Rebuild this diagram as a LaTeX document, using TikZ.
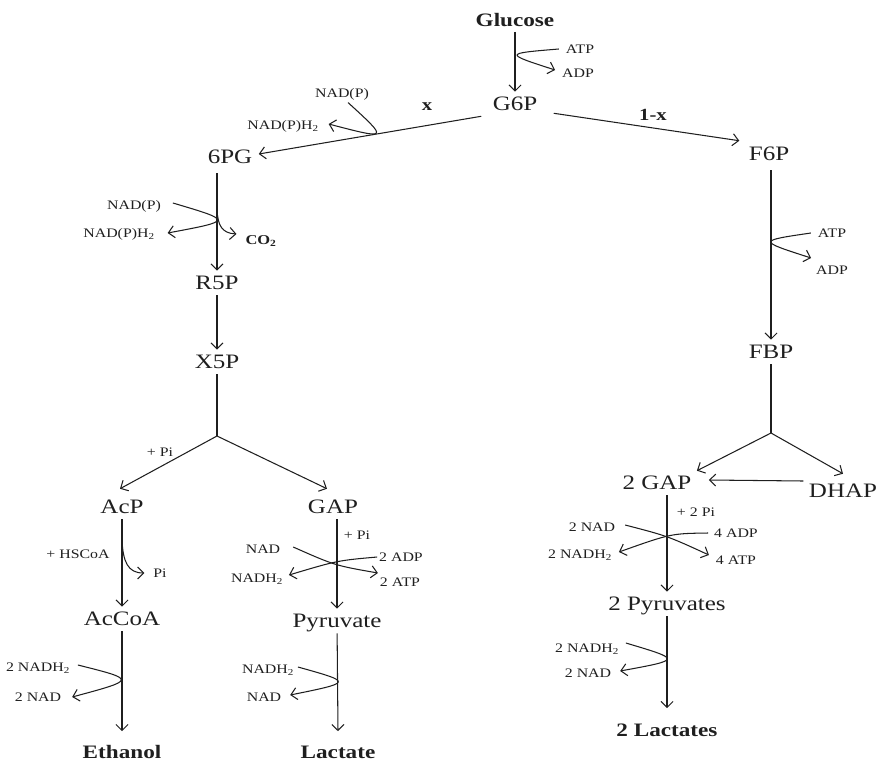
\documentclass[tikz,border=0pt]{standalone}
\usepackage{fontspec}
\setmainfont{Liberation Serif}[FakeStretch=1.22]
\usetikzlibrary{arrows.meta,calc}
\begin{document}
\begin{tikzpicture}[x=1pt,y=-1pt,
  color=black!88, line width=1.05pt,
  >={Straight Barb[length=6pt,width=12pt]},
  mnode/.style={font=\fontsize{20.5}{22}\selectfont, inner sep=5pt, text height=13.5pt, text depth=0pt},
  bnode/.style={font=\fontsize{19}{21}\selectfont\bfseries, inner sep=5pt, text height=12.5pt, text depth=0pt},
  xnode/.style={font=\fontsize{17}{19}\selectfont\bfseries, inner sep=1.5pt},
  lab/.style={font=\fontsize{13}{15}\selectfont, inner sep=1.5pt, text height=9pt, text depth=0pt},
  blab/.style={font=\fontsize{13.5}{15}\selectfont\bfseries, inner sep=1.5pt, text height=9pt, text depth=0pt},
  rx/.style={->}
]
\useasboundingbox (0,0) rectangle (876,764);

% main metabolites
\node[bnode] (glc) at (515,20) {Glucose};
\node[mnode] (g6p) at (515,104) {G6P};
\node[mnode] (pg6) at (230,157) {6PG};
\node[mnode] (f6p) at (769,154) {F6P};
\node[mnode] (r5p) at (217,283) {R5P};
\node[mnode] (x5p) at (217,362) {X5P};
\node[mnode] (acp) at (122,507) {AcP};
\node[mnode] (gap) at (333,507) {GAP};
\node[mnode] (accoa) at (122,619) {AcCoA};
\node[mnode] (pyr) at (337,621) {Pyruvate};
\node[bnode] (eth) at (122,752) {Ethanol};
\node[bnode] (lac) at (338,752) {Lactate};
\node[mnode] (fbp) at (771,352) {FBP};
\node[mnode] (gap2) at (657,483) {2 GAP};
\node[mnode] (dhap) at (843,491) {DHAP};
\node[mnode] (pyr2) at (667,604) {2 Pyruvates};
\node[bnode] (lac2) at (667,730) {2 Lactates};

% labels
\node[lab] (atpA) at (580,49) {ATP};
\node[lab] (adpA) at (578,73) {ADP};
\node[xnode] (xl) at (427,107) {x};
\node[xnode] (onex) at (653,115) {1-x};
\node[lab] (nadpA) at (342,93) {NAD(P)};
\node[lab] (nadphA) at (283,125) {NAD(P)H\textsubscript{2}};
\node[lab] (nadpB) at (134,205) {NAD(P)};
\node[lab] (nadphB) at (119,233) {NAD(P)H\textsubscript{2}};
\node[blab] (co2) at (261,240) {CO\textsubscript{2}};
\node[lab] (atpB) at (832,233) {ATP};
\node[lab] (adpB) at (832,270) {ADP};
\node[lab] (piA) at (160,452) {+ Pi};
\node[lab] (hscoa) at (78,554) {+ HSCoA};
\node[lab] (piB) at (160,573) {Pi};
\node[lab] (nadC) at (263,549) {NAD};
\node[lab] (nadhC) at (257,578) {NADH\textsubscript{2}};
\node[lab] (piC) at (357,535) {+ Pi};
\node[lab] (adpC) at (401,557) {2 ADP};
\node[lab] (atpC) at (400,582) {2 ATP};
\node[lab] (nadhD) at (268,669) {NADH\textsubscript{2}};
\node[lab] (nadD) at (264,697) {NAD};
\node[lab] (nadhE) at (38,667) {2 NADH\textsubscript{2}};
\node[lab] (nadE) at (38,697) {2 NAD};
\node[lab] (piF) at (696,512) {+ 2 Pi};
\node[lab] (nadF) at (592,527) {2 NAD};
\node[lab] (nadhF) at (580,554) {2 NADH\textsubscript{2}};
\node[lab] (adpF) at (736,533) {4 ADP};
\node[lab] (atpF) at (736,560) {4 ATP};
\node[lab] (nadhG) at (587,648) {2 NADH\textsubscript{2}};
\node[lab] (nadG) at (588,673) {2 NAD};

% branch points and side-line starts
\coordinate (b1) at (217,436);
\coordinate (b2) at (771,433);
\coordinate (c6) at (217,210);
\coordinate (cA) at (122,540);

% main connectors
\draw[rx] (glc) -- (g6p);
\draw[rx] ([xshift=-6pt]g6p.south west) -- ([xshift=1pt,yshift=3pt]pg6.east);
\draw[rx] ([xshift=11pt,yshift=3pt]g6p.south east) -- ([xshift=-4pt,yshift=1pt]f6p.north west);
\draw[rx] ($(r5p |- pg6.south)+(0,4)$) -- (r5p.north);
\draw[rx] (r5p) -- (x5p);
\draw (x5p) -- (b1);
\draw[rx] (b1) -- ([xshift=-2pt,yshift=6pt]acp.north);
\draw[rx] (b1) -- ([xshift=-6pt,yshift=6pt]gap.north);
\draw[rx] (acp) -- (accoa);
\draw[rx] (accoa) -- ([yshift=9pt]eth.north);
\draw[rx] (pyr |- gap.south) -- (pyr.north);
\draw[rx] (pyr) -- ([yshift=9pt]lac.north);
\draw[rx] ($(fbp |- f6p.south)+(0,4)$) -- (fbp.north);
\draw (fbp) -- (b2);
\draw[rx] (b2) -- (gap2.north east);
\draw[rx] (b2) -- ([yshift=5pt]dhap.north);
\draw[rx] ([yshift=10pt]dhap.west) -- ([xshift=12pt,yshift=3pt]gap2.east);
\draw[rx] (pyr2 |- gap2.south) -- (pyr2.north);
\draw[rx] (pyr2) -- ([yshift=10pt]lac2.north);

% side reactions
\draw[rx] ([xshift=-5pt]atpA.west) .. controls (504,53.5) .. ([xshift=-5pt,yshift=3pt]adpA.west);
\draw[rx] ([xshift=6pt,yshift=-3pt]nadpA.south) .. controls (388.7,139.7) .. ([xshift=8pt,yshift=1pt]nadphA.east);
\draw[rx] ([xshift=10pt,yshift=2pt]nadpB.east) .. controls (233,220.8) .. ([xshift=11pt]nadphB.east);
\draw[rx] (c6) .. controls (218,226) and (222,233) .. ([xshift=-7pt,yshift=6pt]co2.west);
\draw[rx] ([xshift=-5pt]atpB.west) .. controls (757.6,240.8) .. ([xshift=-3pt,yshift=12pt]adpB.west);
\draw[rx] (cA) .. controls (123,562) and (128,573) .. ([xshift=-7pt]piB.west);
\draw[rx] ([xshift=11pt,yshift=2pt]nadC.east) .. controls (335,565.5) .. ([yshift=9pt]atpC.west);
\draw[rx] (adpC.west) .. controls (337.5,560.5) .. ([xshift=4pt,yshift=3pt]nadhC.east);
\draw[rx] ([xshift=2pt,yshift=2pt]nadhD.east) .. controls (352.8,682.3) .. ([xshift=7pt,yshift=2pt]nadD.east);
\draw[rx] ([xshift=6pt,yshift=2pt]nadhE.east) .. controls (136.5,679.7) .. ([xshift=9pt]nadE.east);
\draw[rx] ([xshift=8pt,yshift=2pt]nadF.east) .. controls (667.5,536) .. ([xshift=-5pt,yshift=5pt]atpF.west);
\draw[rx] ([xshift=-4pt]adpF.west) .. controls (671,533.5) .. ([xshift=5pt,yshift=2pt]nadhF.east);
\draw[rx] ([xshift=5pt,yshift=5pt]nadhG.east) .. controls (681.9,659.7) .. ([xshift=7pt,yshift=2pt]nadG.east);
\end{tikzpicture}
\end{document}
